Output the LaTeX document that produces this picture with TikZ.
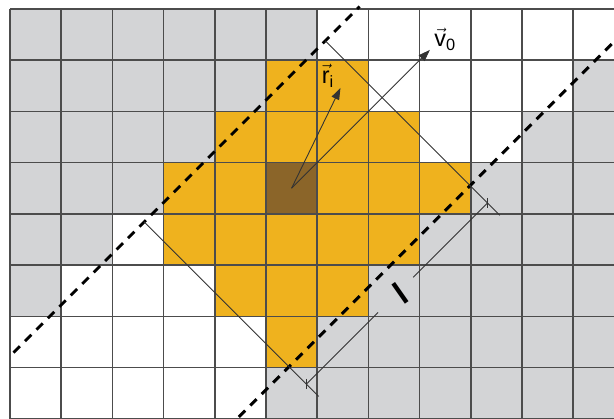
\documentclass[tikz,border=0pt]{standalone}
\usepackage{fontspec}
\setmainfont{Liberation Sans}
\setsansfont{Liberation Sans}
\usetikzlibrary{arrows.meta}

\definecolor{cellgray}{RGB}{211,212,214}
\definecolor{cellorange}{RGB}{239,178,30}
\definecolor{cellbrown}{RGB}{139,101,41}

\begin{document}
\begin{tikzpicture}[
  cellline/.style={line width=0.8pt,black!70},
  dashline/.style={line width=1.6pt,dash pattern=on 5pt off 4pt},
  thinline/.style={line width=0.5pt,black!80},
  vecarrow/.style={thinline,-{Triangle[length=6.5pt,width=4.5pt]}},
  lab/.style={font=\fontsize{13}{15}\selectfont,inner sep=0pt}
]
  \useasboundingbox (-0.195,0.176) rectangle (11.797,-7.988);
  \clip (-0.195,0.176) rectangle (11.797,-7.988);
  \foreach \j in {0,...,5}
    \fill[cellgray] (0,-\j) rectangle (6-\j,-\j-1);
  \foreach \j in {1,...,7}
    \fill[cellgray] (12-\j,-\j) rectangle (12,-\j-1);
  \foreach \a/\b/\j in {5/7/1,4/8/2,3/9/3,3/8/4,4/7/5,5/6/6}
    \fill[cellorange] (\a,-\j) rectangle (\b,-\j-1);
  \fill[cellbrown] (5,-3) rectangle (6,-4);
  \draw[cellline] (0,-8) grid (12,0);

  \begin{scope}[shift={(5.5,-3.5)},rotate=45]
    \coordinate (o) at (0,0);
    \coordinate (v0tip) at (3.82,0);
    \coordinate (ritip) at (2.06,0.71);
    \coordinate (dimA) at (-2.5,-2.91);
    \coordinate (dimB) at (2.5,-2.91);
    \coordinate (gapA) at (-0.52,-2.91);
    \coordinate (gapB) at (0.45,-2.91);
    \draw[dashline] (-6.11,1.57) -- (3.45,1.57);
    \draw[dashline] (-8,-2.43) -- (8,-2.43);
    \draw[thinline] (-2.5,1.57) -- (-2.5,-3.25);
    \draw[thinline] (2.5,1.57) -- (2.5,-3.25);
    \draw[thinline] (dimA) -- (gapA);
    \draw[thinline] (gapB) -- (dimB);
    \node[rotate=35,inner sep=0pt,font=\fontsize{18}{20}\selectfont\bfseries] (len) at (0.06,-2.96) {l};
    \draw[vecarrow] (o) -- (v0tip);
    \draw[vecarrow] (o) -- (ritip);
  \end{scope}

  \draw[thinline] (dimA) +(0,0.1) -- +(0,-0.1);
  \draw[thinline] (dimB) +(0,0.1) -- +(0,-0.1);
  \node[lab] (v0lab) at (8.5,-0.59) {$\vec{\mathsf{v}}_{\mathsf{0}}$};
  \node[lab] (rilab) at (6.21,-1.31) {$\vec{\mathsf{r}}_{\mathsf{i}}$};
\end{tikzpicture}
\end{document}
